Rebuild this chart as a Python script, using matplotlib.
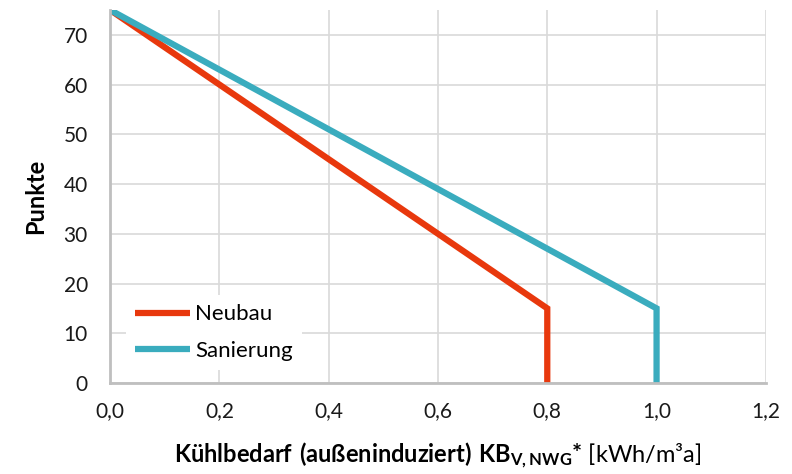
import numpy as np
import matplotlib.pyplot as plt

# Punktevergabe Kühlbedarf: Neubau vs. Sanierung
neubau_x = [0.0, 0.8, 0.8]
neubau_y = [75, 15, 0]
sanierung_x = [0.0, 1.0, 1.0]
sanierung_y = [75, 15, 0]

xticks = [0.0, 0.2, 0.4, 0.6, 0.8, 1.0, 1.2]
yticks = [0, 10, 20, 30, 40, 50, 60, 70]

plt.rcParams['font.family'] = ['Lato', 'DejaVu Sans']
plt.rcParams['mathtext.fontset'] = 'custom'
plt.rcParams['mathtext.rm'] = 'Lato'
plt.rcParams['mathtext.bf'] = 'Lato:bold'

fig = plt.figure(figsize=(7.92, 4.74), dpi=100)
ax = fig.add_axes([0.139, 0.192, 0.828, 0.787])

ax.plot(neubau_x, neubau_y, color='#E8380D', linewidth=4.5, label='Neubau',
        solid_capstyle='butt', solid_joinstyle='miter')
ax.plot(sanierung_x, sanierung_y, color='#3AACBE', linewidth=4.5, label='Sanierung',
        solid_capstyle='butt', solid_joinstyle='miter')

ax.set_xlim(0, 1.2)
ax.set_ylim(0, 75)
ax.set_xticks(xticks)
ax.set_yticks(yticks)
ax.set_xticklabels([f"{v:.1f}".replace('.', ',') for v in xticks])
ax.tick_params(length=0, labelsize=15, colors='#1a1a1a')
ax.tick_params(axis='x', pad=13)
ax.tick_params(axis='y', pad=16)

ax.grid(True, color='#d9d9d9', linewidth=1.2)
ax.set_axisbelow(True)
for s in ['top', 'right']:
    ax.spines[s].set_visible(False)
for s in ['left', 'bottom']:
    ax.spines[s].set_color('#bfbfbf')
    ax.spines[s].set_linewidth(2)

ax.set_ylabel('Punkte', fontsize=17, fontweight='bold', labelpad=12)
ax.set_xlabel(r'$\mathbf{Kühlbedarf\ (außeninduziert)\ KB_{V,NWG}{*}}$ [kWh/m³a]',
              fontsize=17, labelpad=14)

leg = ax.legend(loc='lower left', bbox_to_anchor=(0.025, 0.035), frameon=True,
                fontsize=16, handlelength=2.45, handletextpad=0.25,
                labelspacing=0.75, borderaxespad=0)
leg.get_frame().set_edgecolor('none')
leg.get_frame().set_facecolor('white')
leg.get_frame().set_alpha(1)

fig.savefig('out.png', dpi=100)
